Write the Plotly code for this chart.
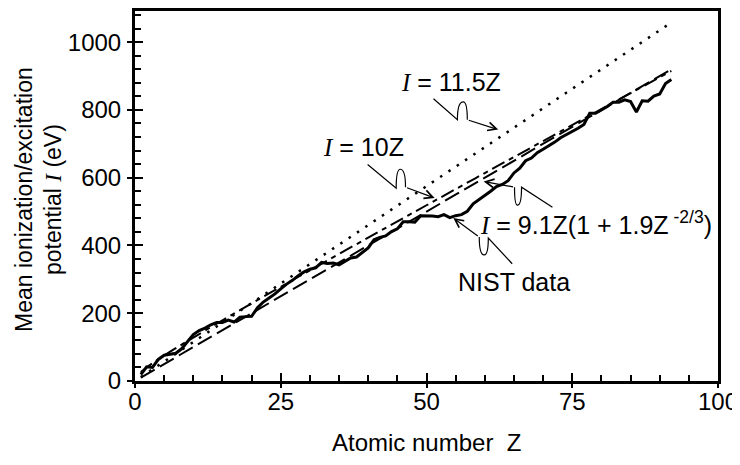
import plotly.graph_objects as go

# ---------------- data ----------------
Z_NIST = list(range(1, 93))
I_NIST = [19.2, 41.8, 40.0, 63.7, 76.0, 78.0, 82.0, 95.0, 115.0, 137.0,
          149.0, 156.0, 166.0, 173.0, 173.0, 180.0, 174.0, 188.0, 190.0, 191.0,
          216.0, 233.0, 245.0, 257.0, 272.0, 286.0, 297.0, 311.0, 322.0, 330.0,
          334.0, 350.0, 347.0, 348.0, 343.0, 352.0, 363.0, 366.0, 379.0, 393.0,
          417.0, 424.0, 428.0, 441.0, 449.0, 470.0, 470.0, 469.0, 488.0, 488.0,
          487.0, 485.0, 491.0, 482.0, 488.0, 491.0, 501.0, 523.0, 535.0, 546.0,
          560.0, 574.0, 580.0, 591.0, 614.0, 628.0, 650.0, 658.0, 674.0, 684.0,
          694.0, 705.0, 718.0, 727.0, 736.0, 746.0, 757.0, 790.0, 790.0, 800.0,
          810.0, 823.0, 823.0, 830.0, 825.0, 794.0, 827.0, 826.0, 841.0, 847.0,
          878.0, 890.0]

Z_LINE = [1, 92]
I_11_5Z = [11.5, 1058.0]
I_10Z = [10.0, 920.0]

Z_FIT = [1, 2, 3, 5, 7, 10, 15, 20, 25, 30, 40, 50, 60, 70, 80, 92]
I_FIT = [26.4, 40.0, 52.2, 75.1, 96.8, 128.2, 179.1, 228.9, 278.0, 326.7,
         423.1, 518.7, 613.7, 708.3, 802.5, 915.3]

X_TICKS = [0, 25, 50, 75, 100]
Y_TICKS = [0, 200, 400, 600, 800, 1000]

FONT = "Liberation Sans, Arial, Helvetica, sans-serif"
SERIF_I = '<span style="font-family:Liberation Serif"><i>I</i></span>'

# callouts: start, end of first leg, hump top, start of last leg, arrow tip (data coords)
CALLOUTS = [
    [(51.2, 833), (55.3, 771), (56.3, 824), (57.0, 771), (62.3, 742)],
    [(39.9, 639), (44.8, 569), (45.5, 625), (46.4, 572), (51.4, 540)],
    [(71.6, 513), (66.3, 572), (65.6, 519), (65.1, 572), (59.8, 589)],
    [(64.7, 346), (60.6, 422), (59.9, 372), (59.05, 425), (54.6, 481)],
]

LABELS = [
    (SERIF_I + " = 11.5Z", 54.2, 883, "center"),
    (SERIF_I + " = 10Z", 39.2, 692, "center"),
    (SERIF_I + " = 9.1Z(1 + 1.9Z<sup> -2/3</sup>)", 58.9, 466, "left"),
    ("NIST data", 55.0, 293, "left"),
]

# ---------------- figure ----------------
fig = go.Figure()
fig.add_trace(go.Scatter(x=Z_LINE, y=I_11_5Z, mode="lines",
                         line=dict(color="black", width=2.5, dash="2.5px,7.5px")))
fig.add_trace(go.Scatter(x=Z_LINE, y=I_10Z, mode="lines",
                         line=dict(color="black", width=2, dash="16px,6px")))
fig.add_trace(go.Scatter(x=Z_FIT, y=I_FIT, mode="lines",
                         line=dict(color="black", width=2, dash="14px,5px,5px,5px",
                                   shape="spline")))
fig.add_trace(go.Scatter(x=Z_NIST, y=I_NIST, mode="lines",
                         line=dict(color="black", width=3)))
# helper trace so the overlay axes (outer half of major ticks) are drawn
fig.add_trace(go.Scatter(x=[None], y=[None], xaxis="x2", yaxis="y2",
                         mode="lines", hoverinfo="skip"))

axis_common = dict(showgrid=False, zeroline=False, showline=True, linecolor="black",
                   linewidth=3, mirror=True, ticks="inside", ticklen=8, tickwidth=2,
                   tickcolor="black",
                   tickfont=dict(family=FONT, size=24, color="black"))

Y_RANGE = [0, 1092]

fig.update_layout(
    width=740, height=465,
    margin=dict(l=127, r=30, t=0, b=92),
    paper_bgcolor="white", plot_bgcolor="white",
    showlegend=False,
    font=dict(family=FONT, color="black"),
    xaxis=dict(range=[0, 100], tickvals=X_TICKS, ticklabelstandoff=-3,
               minor=dict(ticks="inside", dtick=5, tick0=0, ticklen=6, tickwidth=1.5,
                          tickcolor="black"),
               **axis_common),
    yaxis=dict(range=Y_RANGE, tickvals=Y_TICKS, ticklabelstandoff=6,
               minor=dict(ticks="inside", dtick=40, tick0=0, ticklen=6, tickwidth=1.5,
                          tickcolor="black"),
               **axis_common),
    xaxis2=dict(overlaying="x", anchor="y2", range=[0, 100], tickvals=X_TICKS,
                ticks="outside", ticklen=6, tickwidth=2, tickcolor="black",
                showticklabels=False, showline=False, showgrid=False, zeroline=False),
    yaxis2=dict(overlaying="y", anchor="x2", range=Y_RANGE, tickvals=Y_TICKS,
                ticks="outside", ticklen=7, tickwidth=2, tickcolor="black",
                showticklabels=False, showline=False, showgrid=False, zeroline=False),
)

# axis titles
fig.add_annotation(text="Atomic number  Z", xref="paper", yref="paper",
                   x=0.5, y=-0.167, xanchor="center", yanchor="middle",
                   showarrow=False, font=dict(family=FONT, size=24, color="black"))
fig.add_annotation(text="Mean ionization/excitation<br>potential " + SERIF_I + " (eV)",
                   xref="paper", yref="paper", x=-0.166, y=0.49,
                   xanchor="center", yanchor="middle", textangle=-90,
                   showarrow=False, font=dict(family=FONT, size=23, color="black"))

# labels
for txt, x, y, anchor in LABELS:
    fig.add_annotation(text=txt, x=x, y=y, xref="x", yref="y", xanchor=anchor,
                       yanchor="middle", showarrow=False,
                       font=dict(family=FONT, size=25, color="black"))

# callout squiggles with arrow heads
for S, P1, P2, P3, T in CALLOUTS:
    path = (f"M {S[0]},{S[1]} L {P1[0]},{P1[1]} "
            f"Q {P1[0]},{P2[1]} {P2[0]},{P2[1]} "
            f"Q {P3[0]},{P2[1]} {P3[0]},{P3[1]}")
    fig.add_shape(type="path", path=path, xref="x", yref="y",
                  line=dict(color="black", width=1.2))
    fig.add_annotation(x=T[0], y=T[1], ax=P3[0], ay=P3[1], xref="x", yref="y",
                       axref="x", ayref="y", text="", showarrow=True,
                       arrowhead=5, arrowsize=1.4, arrowwidth=1.2,
                       arrowcolor="black", standoff=0)

fig.write_html("out.html")
